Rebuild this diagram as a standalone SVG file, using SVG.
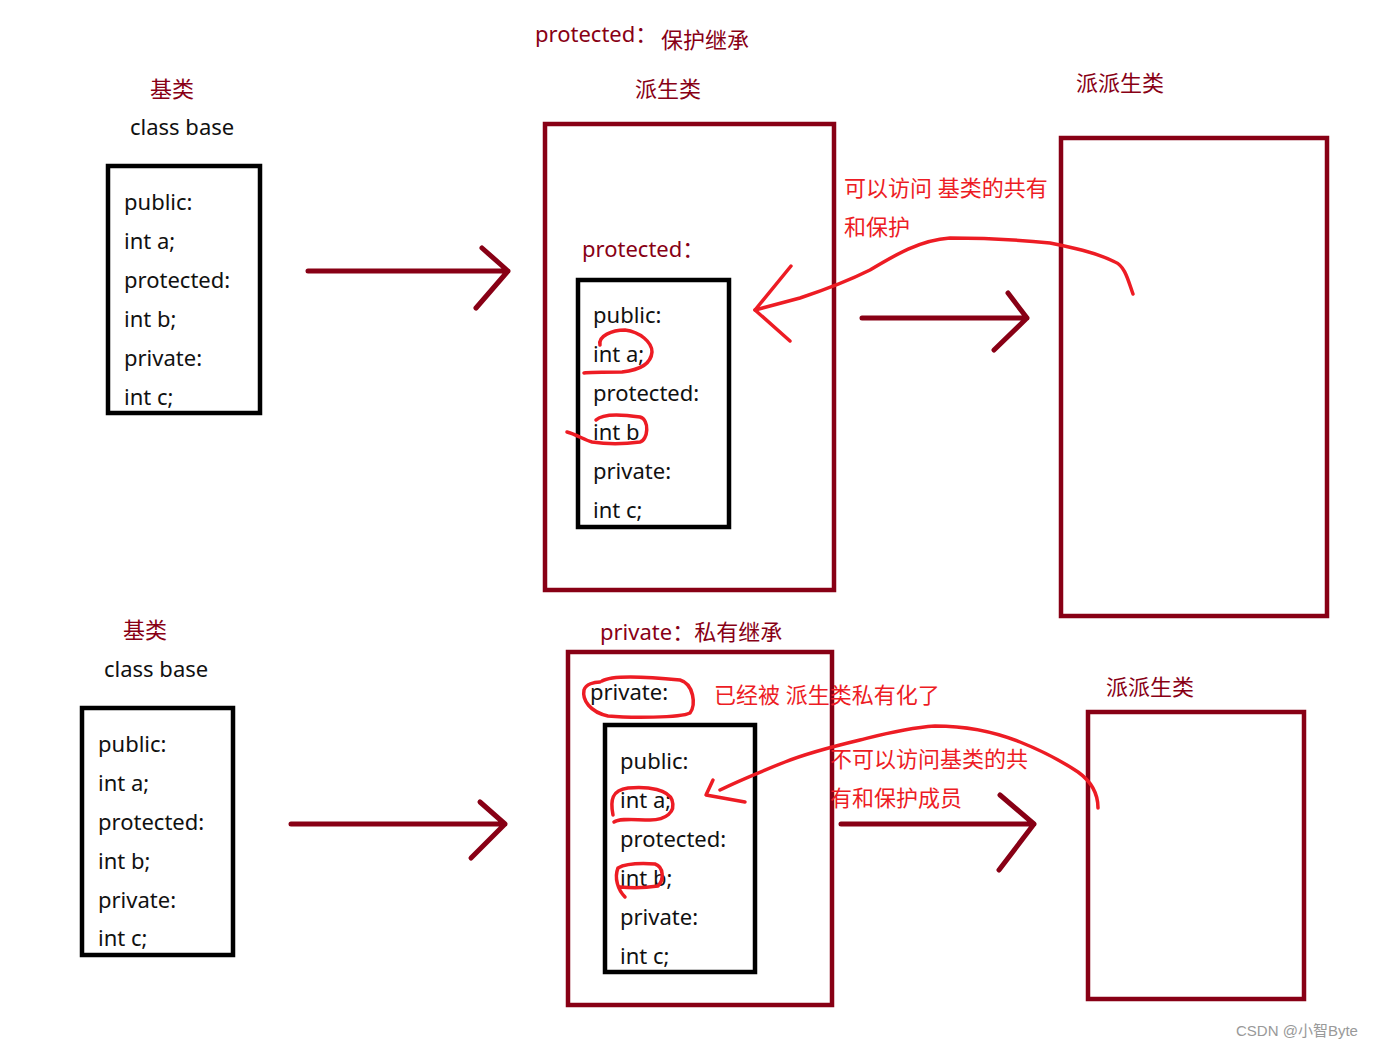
<svg xmlns="http://www.w3.org/2000/svg" width="1373" height="1048" viewBox="0 0 1373 1048">
<style>
text{font-family:"Noto Sans","Noto Sans CJK SC",sans-serif;font-size:22px;}
.k{fill:#111;}
.d{fill:#880015;}
.r{fill:#ed1c24;}
.bx{fill:none;stroke:#000;stroke-width:4.5;}
.dr{fill:none;stroke:#880015;stroke-width:4.5;}
.ar{fill:none;stroke:#880015;stroke-width:5;stroke-linecap:round;stroke-linejoin:round;}
.sc{fill:none;stroke:#ed1c24;stroke-width:3.5;stroke-linecap:round;stroke-linejoin:round;}
.wm{fill:#999;font-family:"Liberation Sans","Noto Sans CJK SC",sans-serif;font-size:15px;}
</style>
<rect width="1373" height="1048" fill="#fff"/>

<g id="top-base">
<text class="d" x="150" y="97">基类</text>
<text class="k" x="130" y="135">class base</text>
<rect class="bx" x="108" y="166" width="152" height="247"/>
<text class="k" x="124" y="210">public:</text>
<text class="k" x="124" y="249">int a;</text>
<text class="k" x="124" y="288">protected:</text>
<text class="k" x="124" y="327">int b;</text>
<text class="k" x="124" y="366">private:</text>
<text class="k" x="124" y="405">int c;</text>
</g>

<g id="top-derived">
<text class="d" x="535" y="42">protected：</text>
<text class="d" x="661" y="48">保护继承</text>
<text class="d" x="635" y="97">派生类</text>
<rect class="dr" x="545" y="124" width="289" height="466"/>
<text class="d" x="582" y="257">protected：</text>
<rect class="bx" x="578" y="280" width="151" height="247"/>
<text class="k" x="593" y="323">public:</text>
<text class="k" x="593" y="362">int a;</text>
<text class="k" x="593" y="401">protected:</text>
<text class="k" x="593" y="440">int b</text>
<text class="k" x="593" y="479">private:</text>
<text class="k" x="593" y="518">int c;</text>
</g>

<g id="top-derived2">
<text class="d" x="1076" y="91">派派生类</text>
<rect class="dr" x="1061" y="138" width="266" height="478"/>
</g>

<g id="top-note">
<text class="r" x="844" y="196">可以访问 基类的共有</text>
<text class="r" x="844" y="235">和保护</text>
</g>

<g id="bottom-base">
<text class="d" x="123" y="638">基类</text>
<text class="k" x="104" y="677">class base</text>
<rect class="bx" x="82" y="708" width="151" height="247"/>
<text class="k" x="98" y="752">public:</text>
<text class="k" x="98" y="791">int a;</text>
<text class="k" x="98" y="830">protected:</text>
<text class="k" x="98" y="869">int b;</text>
<text class="k" x="98" y="908">private:</text>
<text class="k" x="98" y="946">int c;</text>
</g>

<g id="bottom-derived">
<text class="d" x="600" y="640">private：私有继承</text>
<rect class="dr" x="568" y="652" width="264" height="353"/>
<text class="k" x="590" y="700">private:</text>
<rect class="bx" x="605" y="725" width="150" height="247"/>
<text class="k" x="620" y="769">public:</text>
<text class="k" x="620" y="808">int a;</text>
<text class="k" x="620" y="847">protected:</text>
<text class="k" x="620" y="886">int b;</text>
<text class="k" x="620" y="925">private:</text>
<text class="k" x="620" y="964">int c;</text>
</g>

<g id="bottom-derived2">
<text class="d" x="1106" y="695">派派生类</text>
<rect class="dr" x="1088" y="712" width="216" height="287"/>
</g>

<g id="bottom-note">
<text class="r" x="714" y="703">已经被 派生类私有化了</text>
<text class="r" x="830" y="767">不可以访问基类的共</text>
<text class="r" x="830" y="806">有和保护成员</text>
</g>

<g id="connectors">
<path class="ar" d="M308,271 H508 M482,248 L508,271 L476,308"/>
<path class="ar" d="M862,318 H1027 M1008,293 L1027,318 L994,350"/>
<path class="ar" d="M291,824 H505 M480,802 L505,824 L471,858"/>
<path class="ar" d="M841,824 H1034 M1000,795 L1034,824 L999,870"/>
</g>

<g id="scribbles">
<path class="sc" d="M1133,294 C1128,280 1125,266 1115,262 C1095,252 1070,247 1050,243 C1020,240 985,238 950,238 C920,240 895,255 870,270 C850,280 830,288 800,298 C785,302 770,306 755,310"/>
<path class="sc" d="M791,266 L755,310 L790,341"/>
<path class="sc" d="M600,345 C598,336 612,330 625,330 C640,332 652,342 652,352 C651,364 640,370 622,372 C605,372 590,372 584,373"/>
<path class="sc" d="M596,420 C602,414 620,414 640,417 C650,420 648,440 640,442 C625,444 605,444 592,442 C585,440 575,434 567,432"/>
<path class="sc" d="M1098,808 C1098,795 1092,782 1078,772 C1060,760 1040,750 1020,742 C990,730 960,726 935,726 C905,728 880,735 860,740 C835,746 810,752 785,762 C765,770 740,780 720,790"/>
<path class="sc" d="M713,780 L706,795 L745,802"/>
<path class="sc" d="M602,681 C610,676 640,676 680,680 C694,684 696,705 690,713 C680,718 630,718 608,716 C590,712 582,700 584,690 C586,684 594,682 600,682"/>
<path class="sc" d="M613,815 C610,800 612,790 628,788 C650,786 668,790 672,800 C676,812 666,820 650,820 C635,820 620,818 614,822"/>
<path class="sc" d="M625,897 C618,890 614,878 618,868 C625,864 640,863 655,864 C664,867 664,880 658,886 C645,888 630,888 620,887"/>
</g>

<text class="wm" x="1236" y="1036">CSDN @小智Byte</text>
</svg>
